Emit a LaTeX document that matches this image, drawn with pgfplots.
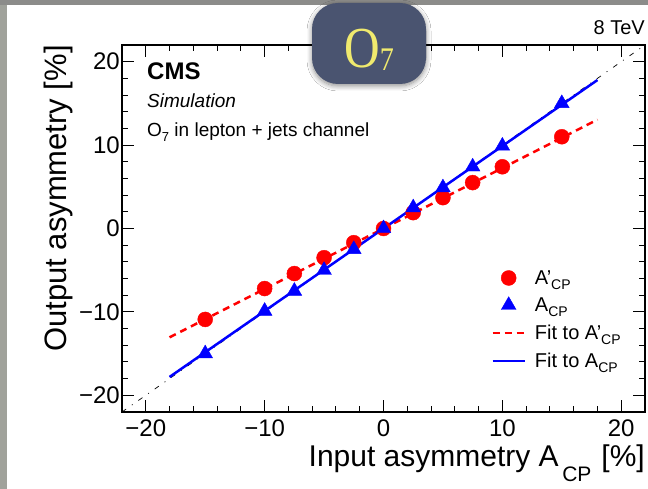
\documentclass[border=0pt]{standalone}
\usepackage{fontspec}
\setmainfont{Liberation Sans}
\newfontfamily\seriffont{Liberation Serif}
\usepackage{pgfplots}
\pgfplotsset{compat=1.18}
\usetikzlibrary{shadows.blur}
\definecolor{badge}{RGB}{74,84,112}
\definecolor{badgetext}{RGB}{240,234,110}
\definecolor{bordergray}{RGB}{160,162,155}
\definecolor{topgray}{RGB}{140,140,138}
\begin{document}
\begin{tikzpicture}[x=1pt,y=1pt]
\useasboundingbox (0,0) rectangle (648,489);
\fill[white] (0,0) rectangle (648,489);
\fill[bordergray] (0,0) rectangle (7,489);
\fill[topgray] (0,484) rectangle (648,489);
\begin{axis}[
  at={(122pt,77pt)}, anchor=south west,
  scale only axis, width=523pt, height=367pt,
  xmin=-22, xmax=22, ymin=-22, ymax=22,
  axis line style={line width=1.3pt},
  tick align=inside,
  xtick={-20,-10,0,10,20},
  xticklabels={−20,−10,0,10,20},
  ytick={-20,-10,0,10,20},
  yticklabels={−20,−10,0,10,20},
  minor x tick num=4, minor y tick num=4,
  major tick length=12pt, minor tick length=6pt,
  tick style={black, line width=1pt},
  tick label style={font=\fontsize{24}{24}\selectfont, inner sep=2pt},
  xticklabel style={yshift=-6pt},
  xlabel={Input asymmetry A\raisebox{-15pt}{\fontsize{21}{21}\selectfont\,CP}\,\,[\%]},
  xlabel style={at={(axis description cs:1,-0.09)}, anchor=north east, font=\fontsize{30}{30}\selectfont, inner sep=0pt},
  ylabel={Output asymmetry [\%]},
  ylabel style={at={(axis description cs:-0.122,1)}, anchor=east, font=\fontsize{31}{31}\selectfont, inner sep=0pt},
  legend image code/.code={\draw[mark repeat=2,mark phase=2,#1] plot coordinates {(0pt,0pt) (16pt,0pt) (32pt,0pt)};},
  legend style={at={(axis description cs:0.706,0.392)}, anchor=north west, draw=none, fill=none, inner sep=0pt,
    font=\fontsize{20}{24}\selectfont, row sep=8pt, cells={anchor=west},
    /tikz/every odd column/.append style={column sep=7pt}},
]
\addplot[black, line width=0.7pt, dash pattern=on 5pt off 7pt on 1pt off 7pt, forget plot] coordinates {(-22,-22) (22,22)};
\addplot[red, line width=2.5pt, dash pattern=on 7pt off 5pt, forget plot] coordinates {(-18,-13.05) (18,13.05)};
\addplot[blue, line width=2.5pt, forget plot] coordinates {(-18,-17.8) (18,17.8)};
\addplot[only marks, mark=*, mark size=7.5pt, red] coordinates {(-15,-10.9) (-10,-7.2) (-7.5,-5.4) (-5,-3.5) (-2.5,-1.7) (0,0) (2.5,1.9) (5,3.7) (7.5,5.5) (10,7.4) (15,11.0)};
\addlegendentry{A'\raisebox{-5pt}{\fontsize{14}{14}\selectfont CP}}
\addplot[only marks, mark=triangle*, mark size=8.5pt, blue] coordinates {(-15,-15.0) (-10,-9.9) (-7.5,-7.5) (-5,-5.0) (-2.5,-2.5) (0,0) (2.5,2.5) (5,4.9) (7.5,7.4) (10,9.9) (15,15.0)};
\addlegendentry{A\raisebox{-5pt}{\fontsize{14}{14}\selectfont CP}}
\addlegendimage{red, line width=2.5pt, dash pattern=on 7pt off 5pt}
\addlegendentry{Fit to A'\raisebox{-5pt}{\fontsize{14}{14}\selectfont CP}}
\addlegendimage{blue, line width=2.5pt}
\addlegendentry{Fit to A\raisebox{-5pt}{\fontsize{14}{14}\selectfont CP}}
\end{axis}
\node[anchor=base west, inner sep=0pt, font=\bfseries\fontsize{24}{24}\selectfont] at (147,409) {CMS};
\node[anchor=base west, inner sep=0pt, font=\itshape\fontsize{19}{19}\selectfont] at (147,381) {Simulation};
\node[anchor=base west, inner sep=0pt, font=\fontsize{19}{19}\selectfont] at (147,352) {O\raisebox{-5pt}{\fontsize{13}{13}\selectfont 7} in lepton + jets channel};
\node[anchor=base east, inner sep=0pt, font=\fontsize{20}{20}\selectfont] at (645,454) {8 TeV};
\fill[badge, rounded corners=26pt, blur shadow={shadow xshift=0pt, shadow yshift=-2pt, shadow blur radius=5pt, shadow blur steps=8, shadow opacity=45}] (312,405) rectangle (426,486);
\node[anchor=base, inner sep=0pt, text=badgetext, xscale=0.85, font=\seriffont\fontsize{58}{58}\selectfont] at (369,421) {O\raisebox{-3pt}{\fontsize{33}{33}\selectfont 7}};
\end{tikzpicture}
\end{document}
